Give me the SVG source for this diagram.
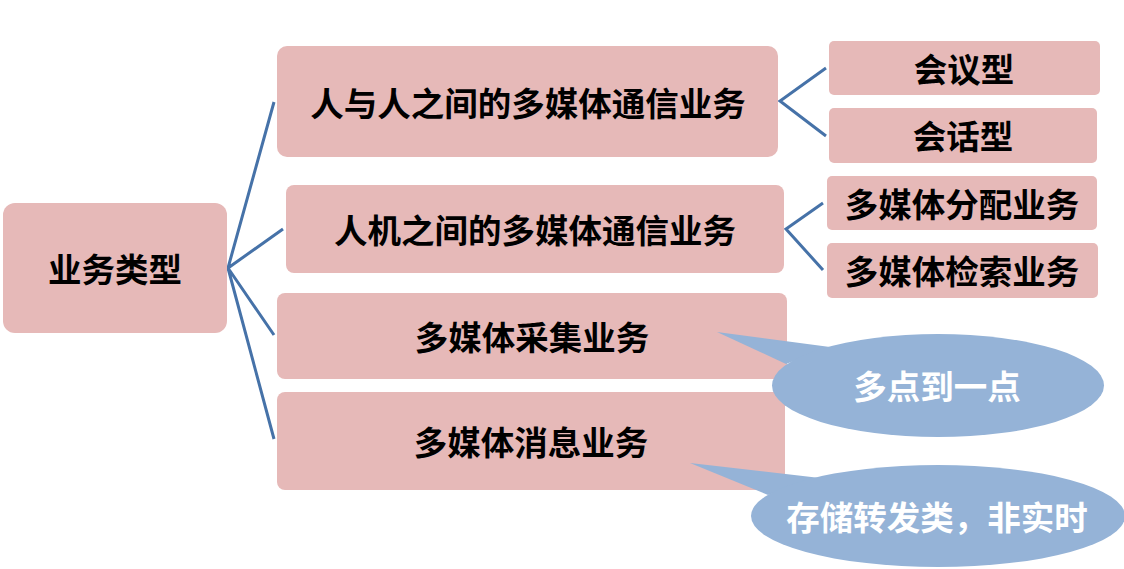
<svg xmlns="http://www.w3.org/2000/svg" width="1124" height="569" viewBox="0 0 1124 569">
<style>
.box{fill:#E6B9B8;}
.t{font-family:"Noto Sans CJK SC","Noto Sans",sans-serif;font-weight:bold;font-size:33.5px;fill:#000;text-anchor:middle;dominant-baseline:central;}
.w{fill:#fff;}
.c{fill:#95B3D7;}
.ln{stroke:#4672A8;stroke-width:3;fill:none;stroke-linejoin:miter;}
</style>
<rect width="1124" height="569" fill="#fff"/>
<g id="connectors">
<path class="ln" d="M274,102 L228,268 L283,229 M274,335 L228,268 L274,439"/>
<path class="ln" d="M826,68 L780,101 L826,136"/>
<path class="ln" d="M823,203 L786,229 L823,270"/>
</g>
<g id="root"><rect class="box" x="3" y="203" width="224" height="130" rx="12"/><text class="t" x="115" y="267">业务类型</text></g>
<g id="n1"><rect class="box" x="277" y="46" width="501" height="111" rx="10"/><text class="t" x="528" y="101">人与人之间的多媒体通信业务</text></g>
<g id="n2"><rect class="box" x="286" y="185" width="498" height="88" rx="8"/><text class="t" x="535" y="228">人机之间的多媒体通信业务</text></g>
<g id="n3"><rect class="box" x="277" y="293" width="510" height="86" rx="8"/><text class="t" x="532" y="335">多媒体采集业务</text></g>
<g id="n4"><rect class="box" x="277" y="392" width="508" height="98" rx="8"/><text class="t" x="531" y="440">多媒体消息业务</text></g>
<g id="n1a"><rect class="box" x="829" y="41" width="271" height="54" rx="5"/><text class="t" x="964" y="67">会议型</text></g>
<g id="n1b"><rect class="box" x="829" y="108" width="268" height="55" rx="5"/><text class="t" x="963" y="134">会话型</text></g>
<g id="n2a"><rect class="box" x="827" y="176" width="270" height="54" rx="5"/><text class="t" x="962" y="202">多媒体分配业务</text></g>
<g id="n2b"><rect class="box" x="827" y="243" width="271" height="55" rx="5"/><text class="t" x="962" y="269">多媒体检索业务</text></g>
<g id="callout1"><polygon class="c" points="717,332 830,347 786,364"/><ellipse class="c" cx="938" cy="385.5" rx="166" ry="51.5"/><text class="t w" x="937" y="384">多点到一点</text></g>
<g id="callout2"><polygon class="c" points="690,463 820,478 768,495"/><ellipse class="c" cx="938" cy="516" rx="187" ry="51"/><text class="t w" x="937" y="515">存储转发类，非实时</text></g>
</svg>
